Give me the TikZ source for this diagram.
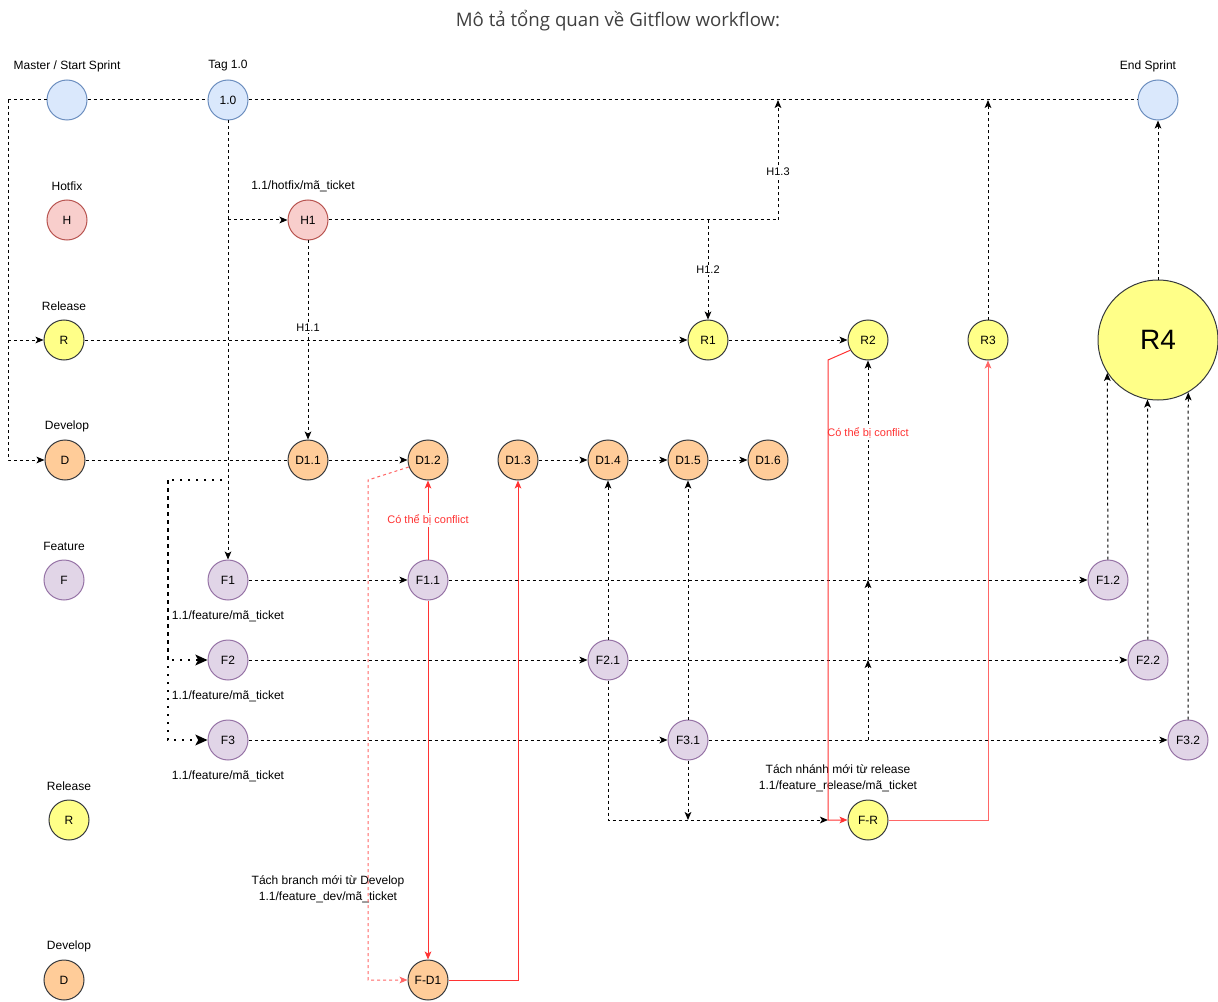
\documentclass[tikz,border=0pt]{standalone}
\usepackage{fontspec}
\setmainfont{Liberation Sans}
\newfontfamily\titlefont{Open Sans}
\usetikzlibrary{arrows.meta}
\definecolor{bfill}{HTML}{DAE8FC}
\definecolor{bline}{HTML}{6C8EBF}
\definecolor{hfill}{HTML}{F8CECC}
\definecolor{hline}{HTML}{B85450}
\definecolor{rfill}{HTML}{FFFF88}
\definecolor{dfill}{HTML}{FFCC99}
\definecolor{gline}{HTML}{36393D}
\definecolor{ffill}{HTML}{E1D5E7}
\definecolor{fline}{HTML}{9673A6}
\definecolor{cred}{HTML}{FF3333}
\definecolor{lred}{HTML}{FF6666}

\begin{document}
\begin{tikzpicture}[x=0.75pt,y=-0.75pt,
  myv/.style={circle, draw, inner sep=0pt, minimum size=30pt, line width=0.75pt, font=\fontsize{9}{11}\selectfont},
  myvb/.style={myv, draw=bline, fill=bfill},
  myvh/.style={myv, draw=hline, fill=hfill},
  myvr/.style={myv, draw=gline, fill=rfill},
  myvd/.style={myv, draw=gline, fill=dfill},
  myvf/.style={myv, draw=fline, fill=ffill},
  myl/.style={font=\fontsize{9}{12}\selectfont, align=center, inner sep=1pt, yshift=-1.5pt},
  mye/.style={font=\fontsize{8.25}{10}\selectfont, fill=white, inner sep=1pt},
  myc/.style={mye, text=cred},
  myd/.style={line width=0.75pt, dash pattern=on 2.25pt off 2.25pt},
  mya/.style={myd, -{Stealth[length=6pt, width=5pt, inset=1.5pt]}},
  myr/.style={line width=0.75pt, draw=cred, -{Stealth[length=6pt, width=5pt, inset=1.5pt]}},
  myr2/.style={myr, draw=lred, dash pattern=on 2.25pt off 2.25pt},
  myt/.style={line width=1.5pt, dash pattern=on 1.5pt off 4.5pt, -{Stealth[length=9pt, width=8pt, inset=2pt]}}]
  \useasboundingbox (0,0) rectangle (1218,1002);
  \node[font=\titlefont\fontsize{14}{16}\selectfont, text=black!75] (ttl) at (618,21) {Mô tả tổng quan về Gitflow workflow:};

  % master
  \node[myvb] (m0) at (67,100) {};
  \node[myvb] (t10) at (228,100) {1.0};
  \node[myvb] (es) at (1158,100) {};
  \node[myl] (lm0) at (67,64) {Master / Start Sprint};
  \node[myl] (lt10) at (228,64) {Tag 1.0};
  \node[myl] (les) at (1148,64) {End Sprint};

  % hotfix
  \node[myvh] (h) at (67,220) {H};
  \node[myvh] (h1) at (308,220) {H1};
  \node[myl] (lh) at (67,184) {Hotfix};
  \node[myl] (lh1) at (303,184) {1.1/hotfix/mã\_ticket};

  % release
  \node[myvr] (r) at (64,340) {R};
  \node[myvr] (r1) at (708,340) {R1};
  \node[myvr] (r2) at (868,340) {R2};
  \node[myvr] (r3) at (988,340) {R3};
  \node[myvr, minimum size=90pt, font=\fontsize{21}{24}\selectfont] (r4) at (1158,340) {R4};
  \node[myl] (lr) at (64,304) {Release};

  % develop
  \node[myvd] (d) at (65,460) {D};
  \node[myvd] (d11) at (308,460) {D1.1};
  \node[myvd] (d12) at (428,460) {D1.2};
  \node[myvd] (d13) at (518,460) {D1.3};
  \node[myvd] (d14) at (608,460) {D1.4};
  \node[myvd] (d15) at (688,460) {D1.5};
  \node[myvd] (d16) at (768,460) {D1.6};
  \node[myl] (ld) at (67,424) {Develop};

  % feature
  \node[myvf] (f) at (64,580) {F};
  \node[myvf] (f1) at (228,580) {F1};
  \node[myvf] (f11) at (428,580) {F1.1};
  \node[myvf] (f12) at (1108,580) {F1.2};
  \node[myvf] (f2) at (228,660) {F2};
  \node[myvf] (f21) at (608,660) {F2.1};
  \node[myvf] (f22) at (1148,660) {F2.2};
  \node[myvf] (f3) at (228,740) {F3};
  \node[myvf] (f31) at (688,740) {F3.1};
  \node[myvf] (f32) at (1188,740) {F3.2};
  \node[myl] (lf) at (64,544) {Feature};
  \node[myl] (lf1) at (228,614) {1.1/feature/mã\_ticket};
  \node[myl] (lf2) at (228,694) {1.1/feature/mã\_ticket};
  \node[myl] (lf3) at (228,774) {1.1/feature/mã\_ticket};

  % new branches
  \node[myvr] (fr) at (868,820) {F-R};
  \node[myvd] (fd1) at (428,980) {F-D1};
  \node[myvr] (r0) at (69,820) {R};
  \node[myvd] (d0) at (64,980) {D};
  \node[myl] (lr0) at (69,784) {Release};
  \node[myl] (ld0) at (69,944) {Develop};
  \node[myl] (lfr) at (838,776) {Tách nhánh mới từ release\\1.1/feature\_release/mã\_ticket};
  \node[myl] (lfd1) at (328,887) {Tách branch mới từ Develop\\1.1/feature\_dev/mã\_ticket};

  \coordinate (c1) at (8,100);
  \coordinate (c2) at (778,100);
  \coordinate (c3) at (222,480);
  \coordinate (c4) at (168,480);
  \coordinate (c5) at (368,480);
  \coordinate (c6) at (828,820);
  \coordinate (c7) at (828,360);

    \draw[myd] (m0) -- (c1);
    \draw[mya] (c1) |- (d);
    \draw[mya] (c1) |- (r);
    \draw[myd] (m0) -- (t10);
    \draw[myd] (t10) -- (es);
    \draw[mya] (t10) -- (f1);
    \draw[mya] (t10 |- h1) -- (h1);
    \draw[mya] (h1) -| node[mye, pos=0.7] (lh13) {H1.3} (c2);
    \draw[mya] (h1 -| r1) -- node[mye] (lh12) {H1.2} (r1);
    \draw[mya] (h1) -- node[mye, pos=0.44] (lh11) {H1.1} (d11);
    \draw[mya] (r) -- (r1);
    \draw[mya] (r1) -- (r2);
    \draw[mya] (r3) -- (r3 |- es);
    \draw[mya] (r4) -- (es);
    \draw[myd] (d) -- (d11);
    \draw[mya] (d11) -- (d12);
    \draw[mya] (d13) -- (d14);
    \draw[mya] (d14) -- (d15);
    \draw[mya] (d15) -- (d16);
    \draw[myt] (c3) -- (c4) |- (f3);
    \draw[myt] (c4) |- (f2);
    \draw[mya] (f1) -- (f11);
    \draw[mya] (f11) -- (f12);
    \draw[mya] (f2) -- (f21);
    \draw[mya] (f21) -- (f22);
    \draw[mya] (f3) -- (f31);
    \draw[mya] (f31) -- (f32);
    \draw[mya] (f21) -- (d14);
    \draw[mya] (f31) -- (d15);
    \draw[mya] (f21) |- (c6);
    \draw[mya] (f31) -- (f31 |- c6);
    \draw[mya] (r2 |- f31) -- (r2 |- f21);
    \draw[mya] (r2 |- f21) -- (r2 |- f11);
    \draw[mya] (r2 |- f11) -- node[myc, pos=0.67] (lc2) {Có thể bị conflict} (r2);
    \draw[mya] (f12) -- (r4.213);
    \draw[mya] (f22) -- (r4.260);
    \draw[mya] (f32) -- (r4.300);
    \draw[myr] (f11) -- node[myc] (lc1) {Có thể bị conflict} (d12);
    \draw[myr] (f11) -- (fd1);
    \draw[myr] (fd1) -| (d13);
    \draw[myr2] (d12.200) -- (c5) |- (fd1);
    \draw[myr] (r2.210) -- (c7) -- (c6) -- (fr);
    \draw[myr, draw=lred] (fr) -| (r3);

\end{tikzpicture}
\end{document}
